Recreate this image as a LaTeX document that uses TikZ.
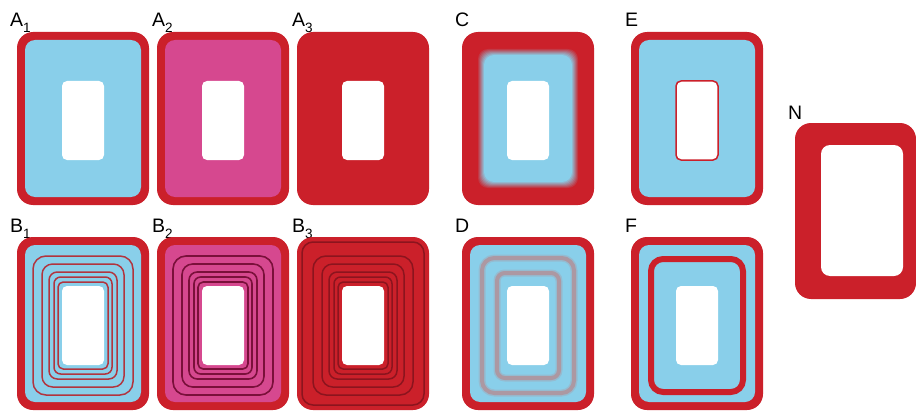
\documentclass[tikz,border=0pt]{standalone}
\usepackage{fontspec}
\setmainfont{Liberation Sans}

\definecolor{framered}{RGB}{203,32,42}
\definecolor{lightblue}{RGB}{137,207,234}
\definecolor{rosepink}{RGB}{214,72,143}
\definecolor{lineB1}{RGB}{178,52,62}
\definecolor{lineB2}{RGB}{122,16,58}
\definecolor{lineB3}{RGB}{140,20,30}
\definecolor{softgray}{RGB}{172,152,162}

\newcommand{\lsub}[1]{\raisebox{-6pt}{\fontsize{13.5}{14}\selectfont #1}}
\newcommand{\panelframe}[1]{%
	\fill[frame] (0,0) rectangle (132,173);
	\fill[core, fill=#1] (8,8) rectangle (124,165);}
\newcommand{\panelhole}{\fill[hole] (45,49) rectangle (87,128);}
\newcommand{\hring}[3][]{\draw[#1, rounded corners={(4+0.3*#3)*1pt}] ({45-#2},{49-#3}) rectangle ({87+#2},{128+#3});}

\tikzset{
	frame/.style={fill=framered, rounded corners=16pt},
	core/.style={rounded corners=10pt},
	hole/.style={fill=white, rounded corners=5pt},
	lbl/.style={anchor=base west, inner sep=0pt, font=\fontsize{19.5}{20}\selectfont},
}

\begin{document}
\begin{tikzpicture}[x=1pt, y=-1pt]

	\fill[white] (0,0) rectangle (916,412);
	\useasboundingbox (0,0) rectangle (916,412);

	\node[lbl] (labA1) at (10,27) {A\lsub{1}};
	\node[lbl] (labA2) at (152,27) {A\lsub{2}};
	\node[lbl] (labA3) at (292,27) {A\lsub{3}};
	\node[lbl] (labC) at (455,27) {C};
	\node[lbl] (labE) at (625,27) {E};
	\node[lbl] (labB1) at (10,232) {B\lsub{1}};
	\node[lbl] (labB2) at (152,232) {B\lsub{2}};
	\node[lbl] (labB3) at (292,232) {B\lsub{3}};
	\node[lbl] (labD) at (455,232) {D};
	\node[lbl] (labF) at (625,232) {F};
	\node[lbl] (labN) at (788,119) {N};

	% top row
	\begin{scope}[shift={(17,32)}]
		\panelframe{lightblue}
		\panelhole
	\end{scope}
	\begin{scope}[shift={(157,32)}]
		\panelframe{rosepink}
		\panelhole
	\end{scope}
	\begin{scope}[shift={(297,32)}]
		\fill[frame] (0,0) rectangle (132,173);
		\panelhole
	\end{scope}
	\begin{scope}[shift={(462,32)}]
		\fill[frame] (0,0) rectangle (132,173);
		\foreach \k [evaluate=\k as \p using int(100*\k/7)] in {0,...,7}
			{\fill[core, fill=lightblue!\p!framered] ({15+\k},{16+\k}) rectangle ({117-\k},{157-\k});}
		\panelhole
	\end{scope}
	\begin{scope}[shift={(631,32)}]
		\panelframe{lightblue}
		\panelhole
		\draw[framered, line width=1.5pt, rounded corners=5pt] (45,49) rectangle (87,128);
	\end{scope}

	% bottom row
	\begin{scope}[shift={(17,237)}]
		\panelframe{lightblue}
		\foreach \dx/\dy in {4/4, 8/9, 13/14, 20/22, 29/30}
			{\hring[lineB1, line width=1.5pt]{\dx}{\dy}}
		\panelhole
	\end{scope}
	\begin{scope}[shift={(157,237)}]
		\panelframe{rosepink}
		\foreach \dx/\dy in {4/4, 8/9, 13/14, 20/22, 29/30}
			{\hring[lineB2, line width=1.6pt]{\dx}{\dy}}
		\panelhole
	\end{scope}
	\begin{scope}[shift={(297,237)}]
		\fill[frame] (0,0) rectangle (132,173);
		\draw[lineB3, line width=1.5pt, rounded corners=11pt] (5,5) rectangle (127,168);
		\foreach \dx/\dy in {4/4, 8/9, 13/14, 20/22, 29/30}
			{\hring[lineB3, line width=1.5pt]{\dx}{\dy}}
		\panelhole
	\end{scope}
	\begin{scope}[shift={(462,237)}]
		\panelframe{lightblue}
		\foreach \dx/\dy in {25/28, 10/13} {
			\hring[softgray, line width=7pt, opacity=.35]{\dx}{\dy}
			\hring[softgray, line width=4pt]{\dx}{\dy}
		}
		\panelhole
	\end{scope}
	\begin{scope}[shift={(631,237)}]
		\panelframe{lightblue}
		\hring[framered, line width=6pt]{25}{27}
		\panelhole
	\end{scope}

	% N
	\begin{scope}[shift={(795,123)}]
		\fill[frame] (0,0) rectangle (121,176);
		\fill[hole, rounded corners=9pt] (26,22) rectangle (108,153);
	\end{scope}

\end{tikzpicture}
\end{document}
